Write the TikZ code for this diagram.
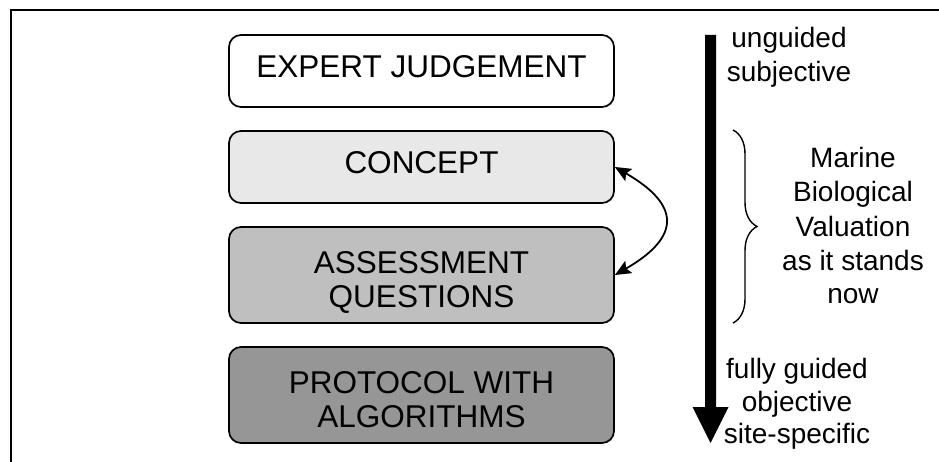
\documentclass[tikz,border=0pt]{standalone}
\usepackage{fontspec}
\setmainfont{Liberation Sans}
\usetikzlibrary{arrows.meta,decorations.pathreplacing,calc}
\begin{document}
\begin{tikzpicture}[x=1pt,y=-1pt,
  box/.style={draw=black, line width=1.7pt, rounded corners=12pt, minimum width=385pt, inner sep=0pt},
  boxtxt/.style={anchor=base, inner sep=0pt, font=\fontsize{31.5}{35}\selectfont},
  sidetxt/.style={anchor=base, inner sep=0pt, font=\fontsize{28}{34}\selectfont},
  frameline/.style={line width=2pt, black},
  swap/.style={line width=1.8pt, {Stealth[length=16pt,width=14pt,inset=3pt]}-{Stealth[length=16pt,width=14pt,inset=3pt]}}
]
\useasboundingbox (0,0) rectangle (939,462);
% frame
\coordinate (fbl) at (11,462);
\coordinate (ftl) at (11,10.5);
\coordinate (ftr) at (939,10.5);
\draw[frameline] (fbl) -- (ftl) -- (ftr);
% boxes
\node[box, fill=white, minimum height=72pt] (expert) at (421.5,71) {};
\node[box, fill=black!9, minimum height=72pt] (concept) at (421.5,167) {};
\node[box, fill=black!25, minimum height=96pt] (assess) at (421.5,275) {};
\node[box, fill=black!41, minimum height=96pt] (protocol) at (421.5,395) {};
% box texts
\node[boxtxt] (t1) at (421.5,78) {EXPERT JUDGEMENT};
\node[boxtxt] (t2) at (421.5,174) {CONCEPT};
\node[boxtxt] (t3a) at (421.5,273) {ASSESSMENT};
\node[boxtxt] (t3b) at (421.5,307) {QUESTIONS};
\node[boxtxt] (t4a) at (421.5,393) {PROTOCOL WITH};
\node[boxtxt] (t4b) at (421.5,427) {ALGORITHMS};
% curved double arrow
\draw[swap] (concept.east) .. controls ($(concept.east)+(66,38)$) and ($(assess.east)+(66,-38)$) .. (assess.east);
% big downward arrow
\fill[black] (705,35) -- (716,35) -- (716,407) -- (728.5,407) -- (710.5,443) -- (692.5,407) -- (705,407) -- cycle;
% side texts
\node[sidetxt] (u1) at (789,48) {unguided};
\node[sidetxt] (u2) at (789,82) {subjective};
\node[sidetxt] (m1) at (853,168) {Marine};
\node[sidetxt] (m2) at (853,202) {Biological};
\node[sidetxt] (m3) at (853,237) {Valuation};
\node[sidetxt] (m4) at (853,270) {as it stands};
\node[sidetxt] (m5) at (853,303) {now};
\node[sidetxt] (f1) at (797,378) {fully guided};
\node[sidetxt] (f2) at (797,411) {objective};
\node[sidetxt] (f3) at (797,443) {site-specific};
% brace
\coordinate (bt) at (733,130);
\coordinate (bb) at (733,323);
\draw[line width=1.4pt, decorate, decoration={brace, amplitude=24pt}] (bt) -- (bb);
\end{tikzpicture}
\end{document}
